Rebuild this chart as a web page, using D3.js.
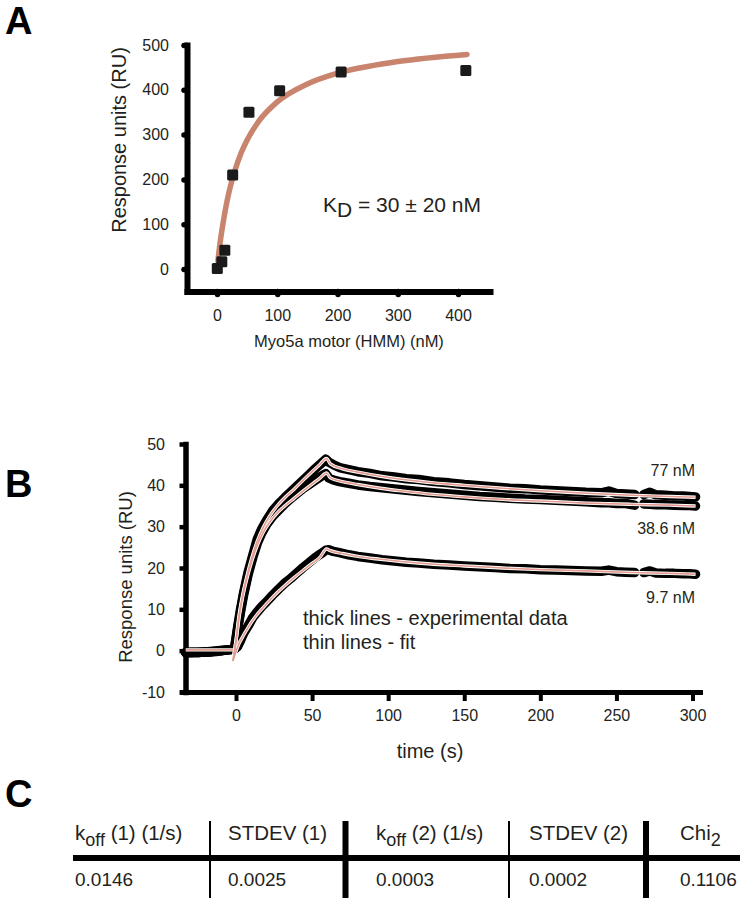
<!DOCTYPE html>
<html><head><meta charset="utf-8">
<script src="https://cdn.jsdelivr.net/npm/d3@7"></script>
<style>
body{margin:0;background:#fff;}
svg text{font-family:"Liberation Sans",Arial,Helvetica,sans-serif;fill:#231f20;}
</style></head><body>
<svg id="c" width="744" height="904"></svg>
<script>
// ---------- Panel A data ----------
const aConc = [0.5, 8, 13, 26, 53, 104, 206, 413];
const aResp = [1, 16, 42, 210, 350, 398, 440, 443];
const aFitConc = [1.5, 5, 10, 15, 20, 30, 40, 50, 70, 100, 150, 200, 300, 415];
const aFitResp = [18, 57, 102, 140, 172, 221, 259, 288, 331, 373, 413, 437, 463, 479];
const aXTicks = [0, 100, 200, 300, 400];
const aYTicks = [0, 100, 200, 300, 400, 500];

// ---------- Panel B data ----------
const bTime = [-33,-29,-25,-21,-17,-13,-9,-5,-1,
  1,3,5,8,11,14,17,20,24,28,32,36,40,44,48,52,56,59,
  61,64,68,74,80,88,96,104,112,120,
  130,140,150,160,170,180,190,200,210,220,230,240,
  245,250,256,262,265,268,272,276,282,288,294,298,302];
const b77 = [-0.5,-0.4,-0.5,-0.3,-0.3,-0.1,0.0,0.2,0.4,
  5.5,10,14,19,23,27,29.5,31.5,33.8,35.5,37,38.4,39.8,41.2,42.6,44,45.3,46.3,
  45.6,45.0,44.3,43.8,43.3,42.9,42.3,42.0,41.6,41.4,
  40.9,40.6,40.2,39.9,39.6,39.3,39.2,38.9,38.7,38.5,38.3,38.2,
  38.6,38.0,37.9,37.8,null,37.8,38.3,37.7,37.6,37.4,37.4,37.3,37.2];
const b386 = [-0.4,-0.5,-0.4,-0.4,-0.2,-0.1,0.1,0.2,0.4,
  5,9.5,13.5,18.5,22.5,26,28.5,30.5,32.5,34,35.5,36.8,38,39.2,40.2,41.2,42.2,42.8,
  41.8,41.3,40.9,40.5,40.1,39.7,39.4,39.1,38.8,38.5,
  38.2,37.9,37.6,37.3,37.1,36.9,36.7,36.6,36.4,36.2,36.0,35.8,
  35.8,35.6,35.6,35.2,null,35.5,35.4,35.3,35.3,35.2,35.1,35.1,35.0];
const b97 = [-0.5,-0.4,-0.4,-0.3,-0.3,-0.2,0.0,0.2,0.4,
  1.0,2.5,4.2,6.0,8.0,9.4,10.7,11.8,13.4,14.9,16.3,17.5,18.8,20.1,21.3,22.5,23.5,24.3,
  24.4,24.0,23.7,23.2,22.8,22.4,22.0,21.7,21.4,21.2,
  20.9,20.7,20.5,20.3,20.1,19.9,19.8,19.6,19.5,19.4,19.3,19.2,
  19.5,19.1,19.0,18.9,null,18.9,19.3,18.8,18.7,18.7,18.6,18.6,18.5];
const bFitTime = [-2,0,2,4,7,10,14,18,22,27,32,38,44,50,55,59.5,62,70,80,95,110,130,150,175,200,230,260,285,302];
const bFit77 = [-2.5,2.5,8.5,12.8,17.8,22.0,26.5,29.9,32.5,35.0,37.0,39.0,41.2,43.3,45.0,46.5,45.2,44.0,43.2,42.2,41.4,40.6,40.0,39.3,38.7,38.1,37.6,37.3,37.1];
const bFit386 = [-2.5,2.2,8.0,12.3,17.2,21.2,25.5,28.7,31.0,33.3,35.0,36.8,38.6,40.3,41.7,43.0,41.8,40.9,40.2,39.3,38.6,37.8,37.2,36.6,36.2,35.7,35.4,35.2,35.0];
const bFit97 = [-2.5,-0.2,1.7,3.1,5.0,6.8,8.8,10.5,12.1,14.0,15.7,17.6,19.4,21.1,22.5,24.6,24.2,23.5,22.8,22.1,21.5,20.9,20.5,20.0,19.6,19.3,18.9,18.7,18.5];
const bBaseFitTime = [-33, -2];
const bBaseFit = [0.2, 0.2];
const bSeriesLabels = ["77 nM", "38.6 nM", "9.7 nM"];
const bXTicks = [0, 50, 100, 150, 200, 250, 300];
const bYTicks = [-10, 0, 10, 20, 30, 40, 50];

// ---------- Panel C data ----------
const cHeadMain = ["k", "STDEV (1)", "k", "STDEV (2)", "Chi"];
const cHeadSub  = ["off", "", "off", "", "2"];
const cHeadTail = [" (1) (1/s)", "", " (2) (1/s)", "", ""];
const cValues   = ["0.0146", "0.0025", "0.0003", "0.0002", "0.1106"];

const svg = d3.select("#c");
const fmt = d => String(d);

function styleAxis(g, dw, tw, cap, fs) {
  g.attr("font-size", null).attr("font-family", null);
  g.select(".domain").attr("stroke", "#000").attr("stroke-width", dw).attr("stroke-linecap", "square");
  g.selectAll(".tick line").attr("stroke", "#000").attr("stroke-width", tw).attr("stroke-linecap", cap);
  g.selectAll(".tick text").attr("fill", "#231f20").style("font-size", fs + "px");
}

// ---------- Panel labels ----------
[["A", 34], ["B", 497], ["C", 807]].forEach(p => {
  svg.append("text").attr("x", 5).attr("y", p[1]).style("font-size", "38px").style("font-weight", "bold")
    .style("fill", "#000").text(p[0]);
});

// ================= Panel A =================
const xA0 = d3.scaleLinear().domain([0, 400]).range([217, 458]);
const xA = d3.scaleLinear().domain([xA0.invert(187), xA0.invert(490)]).range([187, 490]);
const yA0 = d3.scaleLinear().domain([0, 500]).range([269, 45]);
const yA = d3.scaleLinear().domain([yA0.invert(291.5), 500]).range([291.5, 45]);

const gA = svg.append("g");
const axAx = gA.append("g").attr("transform", "translate(0,291.5)")
  .call(d3.axisBottom(xA).tickValues(aXTicks).tickFormat(fmt).tickSize(3).tickPadding(15.5).tickSizeOuter(0));
styleAxis(axAx, 6, 5.5, "round", 16);
const axAy = gA.append("g").attr("transform", "translate(187,0)")
  .call(d3.axisLeft(yA).tickValues(aYTicks).tickFormat(fmt).tickSize(3).tickPadding(15).tickSizeOuter(0));
styleAxis(axAy, 6, 5.5, "round", 16);

const fitA = aFitConc.map((c, i) => [c, aFitResp[i]]);
gA.append("path").datum(fitA)
  .attr("fill", "none").attr("stroke", "#c9846e").attr("stroke-width", 5.5).attr("stroke-linecap", "round")
  .attr("d", d3.line().x(d => xA(d[0])).y(d => yA(d[1])).curve(d3.curveMonotoneX));

const ptsA = aConc.map((c, i) => [c, aResp[i]]);
gA.selectAll("rect.pt").data(ptsA).join("rect").attr("class", "pt")
  .attr("x", d => xA(d[0]) - 5.5).attr("y", d => yA(d[1]) - 5.5)
  .attr("width", 11).attr("height", 11).attr("rx", 1.5).attr("fill", "#1a1a1a");

gA.append("text").attr("transform", "translate(126,140) rotate(-90)").attr("text-anchor", "middle")
  .style("font-size", "20px").text("Response units (RU)");
gA.append("text").attr("x", 349).attr("y", 347).attr("text-anchor", "middle")
  .style("font-size", "16.5px").text("Myo5a motor (HMM) (nM)");
const kd = gA.append("text").attr("x", 323).attr("y", 212).style("font-size", "21px");
kd.append("tspan").text("K");
kd.append("tspan").attr("dy", 5).text("D");
kd.append("tspan").attr("dy", -5).text(" = 30 \u00b1 20 nM");

// ================= Panel B =================
const xB0 = d3.scaleLinear().domain([0, 300]).range([236, 692.5]);
const xB = d3.scaleLinear().domain([xB0.invert(182), xB0.invert(700)]).range([182, 700]);
const yB = d3.scaleLinear().domain([-10, 50]).range([692, 444]);

const gB = svg.append("g");
const axBx = gB.append("g").attr("transform", "translate(0,692)")
  .call(d3.axisBottom(xB).tickValues(bXTicks).tickFormat(fmt).tickSize(9).tickPadding(9).tickSizeOuter(0));
styleAxis(axBx, 5, 4, "butt", 16);
const axBy = gB.append("g").attr("transform", "translate(185.5,0)")
  .call(d3.axisLeft(yB).tickValues(bYTicks).tickFormat(fmt).tickSize(6).tickPadding(14.5).tickSizeOuter(0));
styleAxis(axBy, 5.5, 4.5, "butt", 16);

const lineB = d3.line().defined(d => d[1] !== null).x(d => xB(d[0])).y(d => yB(d[1]));
const dataSeries = [b97, b386, b77];
dataSeries.forEach(s => {
  gB.append("path").datum(bTime.map((t, i) => [t, s[i]]))
    .attr("fill", "none").attr("stroke", "#000").attr("stroke-width", 9.5)
    .attr("stroke-linejoin", "round").attr("stroke-linecap", "round").attr("d", lineB);
});
const fitLine = d3.line().x(d => xB(d[0])).y(d => yB(d[1])).curve(d3.curveMonotoneX);
const fitSeries = [bFit97, bFit386, bFit77];
const fitPaths = fitSeries.map(s => bFitTime.map((t, i) => [t, s[i]]));
fitPaths.push(bBaseFitTime.map((t, i) => [t, bBaseFit[i]]));
fitPaths.forEach(p => {
  gB.append("path").datum(p).attr("fill", "none").attr("stroke", "#fff").attr("stroke-width", 3.4)
    .attr("stroke-linejoin", "round").attr("d", fitLine);
});
fitPaths.forEach(p => {
  gB.append("path").datum(p).attr("fill", "none").attr("stroke", "#e59c90").attr("stroke-width", 1.6)
    .attr("stroke-linejoin", "round").attr("d", fitLine);
});

const labY = [476, 534, 603];
bSeriesLabels.forEach((l, i) => {
  gB.append("text").attr("x", 695).attr("y", labY[i]).attr("text-anchor", "end").style("font-size", "16px").text(l);
});
gB.append("text").attr("x", 303).attr("y", 625).style("font-size", "20px").text("thick lines - experimental data");
gB.append("text").attr("x", 303).attr("y", 649).style("font-size", "20px").text("thin lines - fit");
gB.append("text").attr("transform", "translate(132,577) rotate(-90)").attr("text-anchor", "middle")
  .style("font-size", "18.5px").text("Response units (RU)");
gB.append("text").attr("x", 430).attr("y", 758).attr("text-anchor", "middle").style("font-size", "20px").text("time (s)");

// ================= Panel C =================
const gC = svg.append("g");
const colX = [75, 228, 376, 529, 680];
const vLines = [[210, 2], [345.5, 6], [509, 2], [646, 6]];
gC.append("line").attr("x1", 73).attr("x2", 740).attr("y1", 858).attr("y2", 858).attr("stroke", "#000").attr("stroke-width", 6);
vLines.forEach(v => {
  gC.append("line").attr("x1", v[0]).attr("x2", v[0]).attr("y1", 821).attr("y2", 898).attr("stroke", "#000").attr("stroke-width", v[1]);
});
cHeadMain.forEach((h, i) => {
  const t = gC.append("text").attr("x", colX[i]).attr("y", 840).style("font-size", "20.5px");
  t.append("tspan").text(h);
  if (cHeadSub[i]) {
    t.append("tspan").attr("dy", 6).style("font-size", "18px").text(cHeadSub[i]);
    if (cHeadTail[i]) t.append("tspan").attr("dy", -6).style("font-size", "20.5px").text(cHeadTail[i]);
  }
  gC.append("text").attr("x", colX[i]).attr("y", 886).style("font-size", "19px").text(cValues[i]);
});
</script></body></html>
